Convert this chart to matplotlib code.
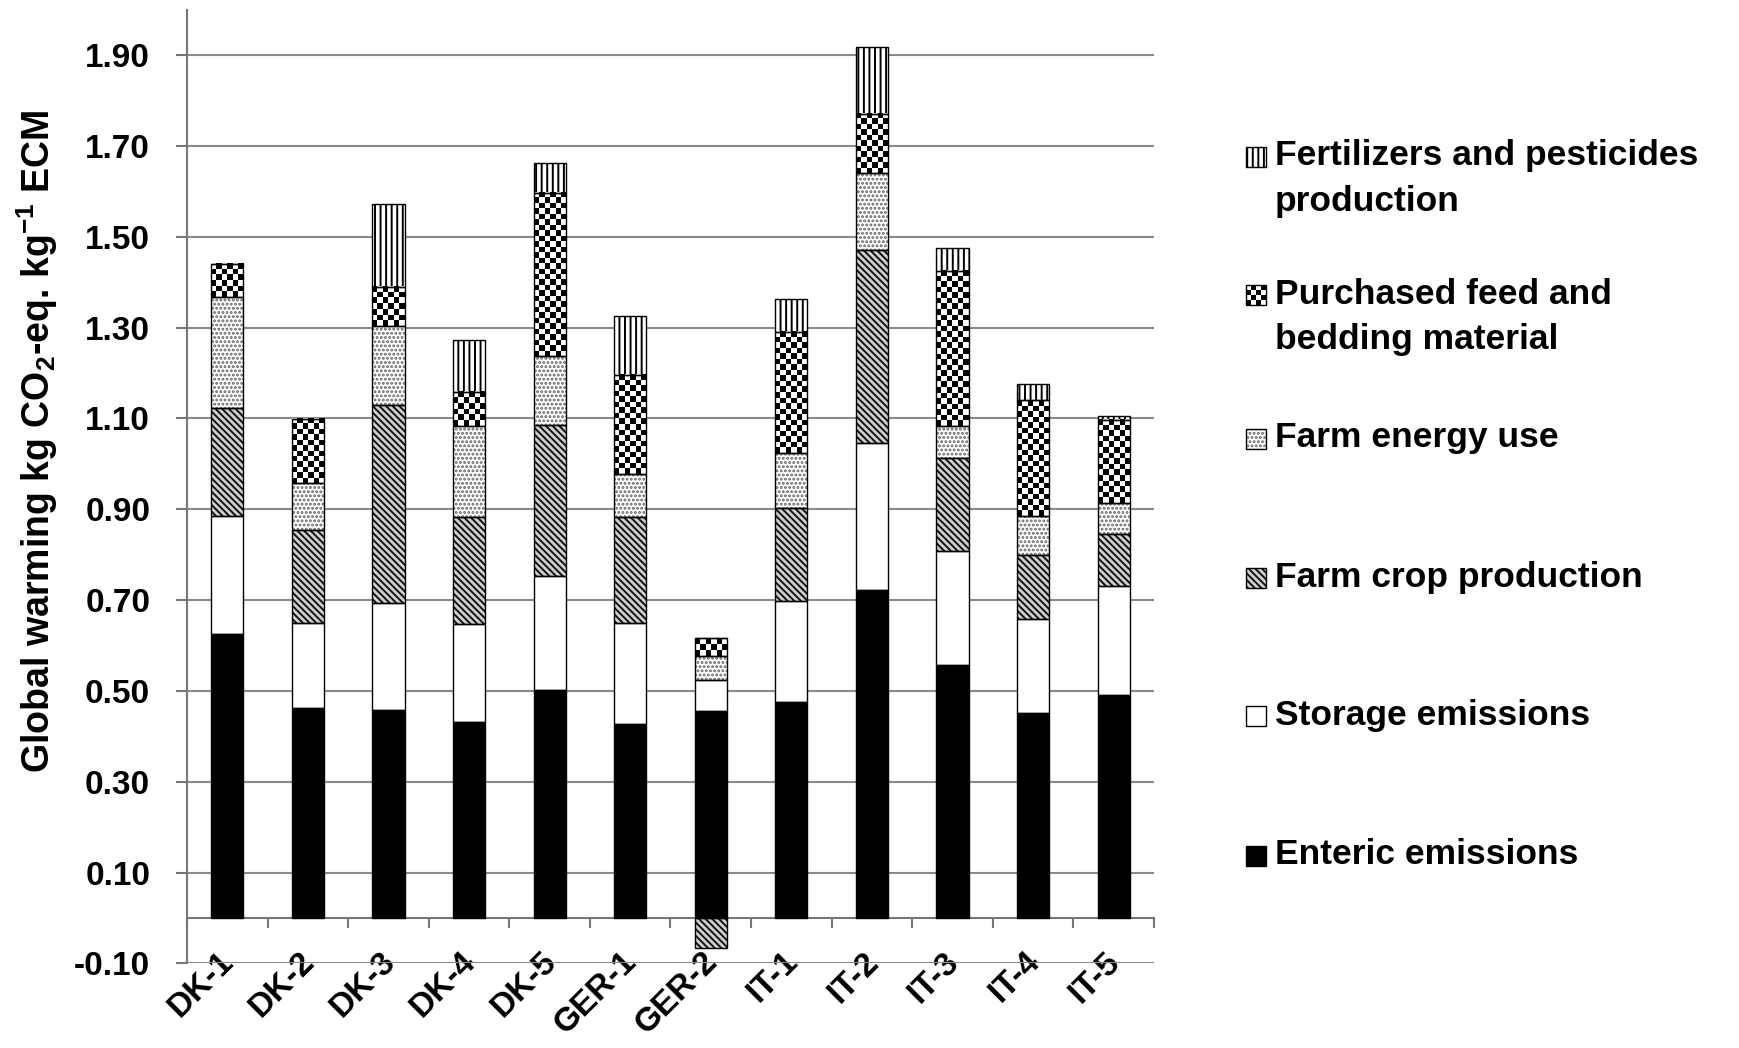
import numpy as np
import matplotlib
matplotlib.use('Agg')
import matplotlib.pyplot as plt
from matplotlib.patches import Rectangle
import matplotlib.transforms as mtransforms

plt.rcParams['font.family'] = ['Liberation Sans', 'DejaVu Sans']
plt.rcParams['font.weight'] = 'bold'
plt.rcParams['hatch.linewidth'] = 1.4

# farms (x categories)
farms = ['DK-1', 'DK-2', 'DK-3', 'DK-4', 'DK-5', 'GER-1', 'GER-2',
         'IT-1', 'IT-2', 'IT-3', 'IT-4', 'IT-5']

# kg CO2-eq. per kg ECM
enteric    = [0.625, 0.463, 0.459, 0.432, 0.503, 0.427, 0.456, 0.475, 0.722, 0.557, 0.451, 0.492]
storage    = [0.260, 0.186, 0.234, 0.215, 0.251, 0.223, 0.068, 0.222, 0.323, 0.250, 0.208, 0.238]
crop       = [0.238, 0.205, 0.436, 0.235, 0.331, 0.232, -0.067, 0.206, 0.426, 0.205, 0.140, 0.116]
energy     = [0.244, 0.104, 0.174, 0.201, 0.152, 0.095, 0.053, 0.120, 0.170, 0.071, 0.086, 0.067]
purchased  = [0.073, 0.141, 0.087, 0.076, 0.360, 0.219, 0.039, 0.268, 0.130, 0.342, 0.255, 0.184]
fertilizer = [0.000, 0.000, 0.183, 0.114, 0.066, 0.130, 0.000, 0.072, 0.147, 0.051, 0.035, 0.008]

series_names = ['Enteric emissions', 'Storage emissions', 'Farm crop production',
                'Farm energy use', 'Purchased feed and\nbedding material',
                'Fertilizers and pesticides\nproduction']

yticks = [-0.10, 0.10, 0.30, 0.50, 0.70, 0.90, 1.10, 1.30, 1.50, 1.70, 1.90]
ytick_labels = ['-0.10', '0.10', '0.30', '0.50', '0.70', '0.90', '1.10', '1.30', '1.50', '1.70', '1.90']

# fill style for each series: facecolor, hatch, hatch colour, checker
styles = [
    dict(fc='black', hatch=None, hc='black', checker=False),
    dict(fc='white', hatch=None, hc='white', checker=False),
    dict(fc='#d0d0d0', hatch='\\\\\\\\\\', hc='#111111', checker=False),
    dict(fc='white', hatch='....', hc='#666666', checker=False),
    dict(fc='white', hatch=None, hc='white', checker=True),
    dict(fc='white', hatch='|||', hc='black', checker=False),
]

W, H = 1740, 1048
fig = plt.figure(figsize=(W / 100, H / 100), dpi=100)
ax = fig.add_axes([187 / W, 1 - 963.4 / H, (1154 - 187) / W, (963.4 - 9.6) / H])
ax.set_xlim(-0.5, len(farms) - 0.5)
ax.set_ylim(-0.1, 2.0)

px_per_unit = (963.4 - 9.6) / 2.1
sq = 5.5


def checker_fill(axis, x0, y0, w, h, ncols, nrows, z):
    board = np.indices((nrows, ncols)).sum(0) % 2
    axis.imshow(board, cmap='gray', extent=[x0, x0 + w, y0, y0 + h], origin='lower',
                aspect='auto', interpolation='nearest', zorder=z)


x = np.arange(len(farms))
width = 0.40
pos_base = np.zeros(len(farms))
neg_base = np.zeros(len(farms))
all_series = [enteric, storage, crop, energy, purchased, fertilizer]
for vals, st in zip(all_series, styles):
    vals = np.array(vals)
    bottom = np.where(vals >= 0, pos_base, neg_base)
    ax.bar(x, vals, width, bottom=bottom, color=st['fc'], hatch=st['hatch'],
           edgecolor=st['hc'], linewidth=0, zorder=2)
    bars = ax.bar(x, vals, width, bottom=bottom, color='none', edgecolor='black',
                  linewidth=1.0, zorder=4)
    if st['checker']:
        for p in bars.patches:
            h = p.get_height()
            if abs(h) < 1e-6:
                continue
            nrows = max(1, int(round(abs(h) * px_per_unit / sq)))
            checker_fill(ax, p.get_x(), p.get_y(), p.get_width(), h, 6, nrows, 3)
    pos_base += np.where(vals > 0, vals, 0)
    neg_base += np.where(vals < 0, vals, 0)

ax.set_xlim(-0.5, len(farms) - 0.5)
ax.set_ylim(-0.1, 2.0)

# grid and axes
ax.set_yticks(yticks)
ax.set_yticklabels(ytick_labels, fontsize=24, fontweight='bold')
ax.yaxis.grid(True, color='#8a8a8a', linewidth=1.5, zorder=0)
ax.set_axisbelow(True)
ax.tick_params(axis='y', direction='out', length=8, width=1.5, color='#777777', pad=18.5)

for s in ['top', 'right']:
    ax.spines[s].set_visible(False)
ax.spines['left'].set_color('#777777')
ax.spines['left'].set_linewidth(1.5)
ax.spines['bottom'].set_position(('data', 0))
ax.spines['bottom'].set_color('#777777')
ax.spines['bottom'].set_linewidth(1.5)
ax.spines['bottom'].set_zorder(1)

ax.set_xticks(x)
ax.set_xticklabels(farms, fontsize=24, fontweight='bold', rotation=45,
                   ha='right', va='center', rotation_mode='anchor')
ax.set_xticks(np.arange(-0.5, len(farms)), minor=True)
ax.tick_params(axis='x', which='major', length=0, pad=28)
ax.tick_params(axis='x', which='minor', direction='out', length=7, width=1.5, color='#777777')
shift = mtransforms.ScaledTranslation(2 / 100, 0, fig.dpi_scale_trans)
for lab in ax.get_xticklabels():
    lab.set_transform(lab.get_transform() + shift)

fig.text(37 / W, 1 - 441 / H, 'Global warming kg CO$_\\mathregular{2}$-eq. kg$^\\mathregular{-1}$ ECM',
         rotation=90, ha='center', va='center', fontsize=27, fontweight='bold')

# legend drawn in a pixel-coordinate overlay
lax = fig.add_axes([0, 0, 1, 1])
lax.set_xlim(0, W)
lax.set_ylim(H, 0)
lax.axis('off')
cap_centers = [852, 712, 574, 435, 291, 153]
box = 20
for name, st, yc in zip(series_names, styles, cap_centers):
    bx, by = 1246, yc - box / 2 + 4
    if st['checker']:
        lax.add_patch(Rectangle((bx, by), box, box, facecolor='white', edgecolor='none', zorder=2))
        checker_fill(lax, bx, by + box, box, -box, 4, 4, 3)
    else:
        lax.add_patch(Rectangle((bx, by), box, box, facecolor=st['fc'], hatch=st['hatch'],
                                edgecolor=st['hc'], linewidth=0, zorder=2))
    lax.add_patch(Rectangle((bx, by), box, box, facecolor='none', edgecolor='black',
                            linewidth=1.0, zorder=4))
    for i, line in enumerate(name.split('\n')):
        lax.text(1275, yc + 12.5 + i * 46, line, fontsize=25.5, fontweight='bold',
                 ha='left', va='baseline')
lax.set_xlim(0, W)
lax.set_ylim(H, 0)

fig.savefig('out.png', dpi=100)
